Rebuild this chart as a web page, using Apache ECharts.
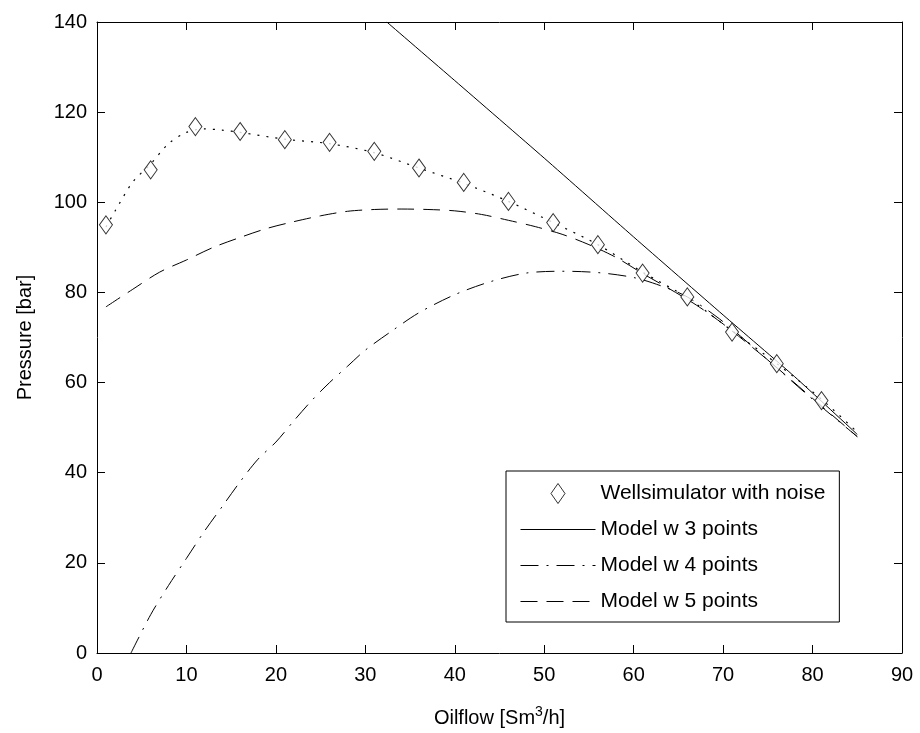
<!DOCTYPE html>
<html>
<head>
<meta charset="utf-8">
<script src="https://cdn.jsdelivr.net/npm/echarts@6/dist/echarts.min.js"></script>
<style>
  html, body { margin: 0; padding: 0; background: #fff; }
  #chart { width: 920px; height: 733px; }
</style>
</head>
<body>
<div id="chart"></div>
<script>
// measured data (Oilflow, Pressure)
var simX = [1, 6, 11, 16, 21, 26, 31, 36, 41, 46, 51, 56, 61, 66, 71, 76, 81];
var simY = [95, 107.2, 116.8, 115.7, 113.9, 113.3, 111.3, 107.6, 104.4, 100.2, 95.5, 90.6, 84.3, 79, 71.2, 64.2, 56];

// dotted curve through the simulator points (no legend entry)
var trueX = [1, 2, 4, 6, 8, 10, 12, 14, 16, 21, 26, 31, 36, 41, 46, 51, 56, 61, 66, 71, 76, 81, 85];
var trueY = [94.5, 98, 104.5, 108.5, 113, 115.5, 116.3, 116, 115.5, 114, 113, 111, 107.6, 104.2, 100.2, 95.5, 90.6, 84.5, 78.8, 71.5, 64.2, 56.3, 49];

var m3X = [32.4, 40, 50, 60, 70, 78, 85];
var m3Y = [140, 127, 109.8, 92.3, 75, 61.3, 48.5];

var m4X = [3.8, 6, 8, 10, 12, 14, 16, 18, 20, 22, 24, 26, 28, 30, 33, 36, 40, 44, 48, 52, 56, 60, 63, 66, 70, 75, 80, 85];
var m4Y = [0, 8.5, 15, 21, 27, 32.5, 38, 43, 46.8, 51.5, 56, 60, 63.6, 67.2, 71.5, 75.5, 79.5, 82.4, 84.3, 84.7, 84.4, 83.3, 81.5, 79, 73.5, 65, 56.3, 48];

var m5X = [1, 4, 7, 10, 13, 16, 19, 22, 25, 28, 31, 34, 37, 40, 43, 46, 49, 52, 55, 58, 61, 64, 67, 70, 75, 80, 85];
var m5Y = [76.8, 80.7, 84.5, 87.2, 90, 92.2, 94.2, 95.7, 97, 98, 98.4, 98.5, 98.4, 98.1, 97.3, 96, 94.6, 92.9, 90.6, 87.8, 84.2, 80.8, 77.2, 73, 65, 56.5, 48];

var legendNames = ['Wellsimulator with noise', 'Model w 3 points', 'Model w 4 points', 'Model w 5 points'];

function pairs(xs, ys) {
  var out = [];
  for (var i = 0; i < xs.length; i++) out.push([xs[i], ys[i]]);
  return out;
}

var font = '"Liberation Sans", Arial, Helvetica, sans-serif';
var myChart = echarts.init(document.getElementById('chart'));

var xBase = { type: 'value', min: 0, max: 90, interval: 10, splitLine: { show: false },
  axisLine: { onZero: false, lineStyle: { color: '#000', width: 1 } },
  axisTick: { inside: true, length: 8, lineStyle: { color: '#000' } } };
var yBase = { type: 'value', min: 0, max: 140, interval: 20, splitLine: { show: false },
  axisLine: { onZero: false, lineStyle: { color: '#000', width: 1 } },
  axisTick: { inside: true, length: 8, lineStyle: { color: '#000' } } };

var diamondPath = 'path://M7,0L14,10L7,20L0,10Z';
var noMark = { color: 'rgba(0,0,0,0)', borderColor: 'rgba(0,0,0,0)', borderWidth: 0 };

var option = {
  backgroundColor: '#fff',
  animation: false,
  textStyle: { fontFamily: font, color: '#000' },
  grid: { left: 97, right: 18, top: 22, bottom: 79 },
  legend: {
    data: [
      { name: legendNames[0], icon: diamondPath, itemStyle: { color: '#fff', borderColor: '#000', borderWidth: 1 } },
      { name: legendNames[1], itemStyle: noMark, lineStyle: { width: 1 } },
      { name: legendNames[2], itemStyle: noMark, lineStyle: { width: 1 } },
      { name: legendNames[3], itemStyle: noMark, lineStyle: { width: 1 } }
    ],
    orient: 'vertical',
    left: 506,
    top: 471,
    itemWidth: 75,
    itemHeight: 20,
    itemGap: 15,
    symbolKeepAspect: true,
    padding: [12, 14, 10, 14],
    borderColor: '#000',
    borderWidth: 1,
    backgroundColor: '#fff',
    borderRadius: 0,
    textStyle: { fontSize: 21, color: '#000', fontFamily: font }
  },
  xAxis: [
    Object.assign({}, xBase, {
      position: 'bottom',
      name: 'Oilflow [Sm{sup|3}/h]',
      nameLocation: 'middle',
      nameGap: 52,
      nameTextStyle: { fontSize: 20, color: '#000', fontFamily: font,
        rich: { sup: { fontSize: 14, verticalAlign: 'top', padding: [0, 0, 12, 0], color: '#000', fontFamily: font } } },
      axisLabel: { fontSize: 20, color: '#000', margin: 12, fontFamily: font }
    }),
    Object.assign({}, xBase, { position: 'top', axisLabel: { show: false } })
  ],
  yAxis: [
    Object.assign({}, yBase, {
      position: 'left',
      name: 'Pressure [bar]',
      nameLocation: 'middle',
      nameGap: 62,
      nameTextStyle: { fontSize: 20, color: '#000', fontFamily: font },
      axisLabel: { fontSize: 20, color: '#000', margin: 10, fontFamily: font }
    }),
    Object.assign({}, yBase, { position: 'right', axisLabel: { show: false } })
  ],
  series: [
    {
      name: 'dotted',
      type: 'line',
      data: pairs(trueX, trueY),
      smooth: 0.3,
      symbol: 'none',
      silent: true,
      lineStyle: { color: '#000', width: 1.2, type: [2, 7] },
      z: 1
    },
    {
      name: legendNames[0],
      type: 'scatter',
      data: pairs(simX, simY),
      symbol: 'diamond',
      symbolSize: [13, 18],
      itemStyle: { color: '#fff', borderColor: '#000', borderWidth: 1 },
      z: 5
    },
    {
      name: legendNames[1],
      type: 'line',
      data: pairs(m3X, m3Y),
      smooth: 0.2,
      symbol: 'none',
      itemStyle: { color: '#000' },
      lineStyle: { color: '#000', width: 1, type: 'solid' },
      z: 3
    },
    {
      name: legendNames[2],
      type: 'line',
      data: pairs(m4X, m4Y),
      smooth: 0.3,
      symbol: 'none',
      itemStyle: { color: '#000' },
      lineStyle: { color: '#000', width: 1, type: [18, 8, 2, 8] },
      z: 3
    },
    {
      name: legendNames[3],
      type: 'line',
      data: pairs(m5X, m5Y),
      smooth: 0.3,
      symbol: 'none',
      itemStyle: { color: '#000' },
      lineStyle: { color: '#000', width: 1, type: [17, 9] },
      z: 3
    }
  ]
};

option && myChart.setOption(option);
</script>
</body>
</html>
